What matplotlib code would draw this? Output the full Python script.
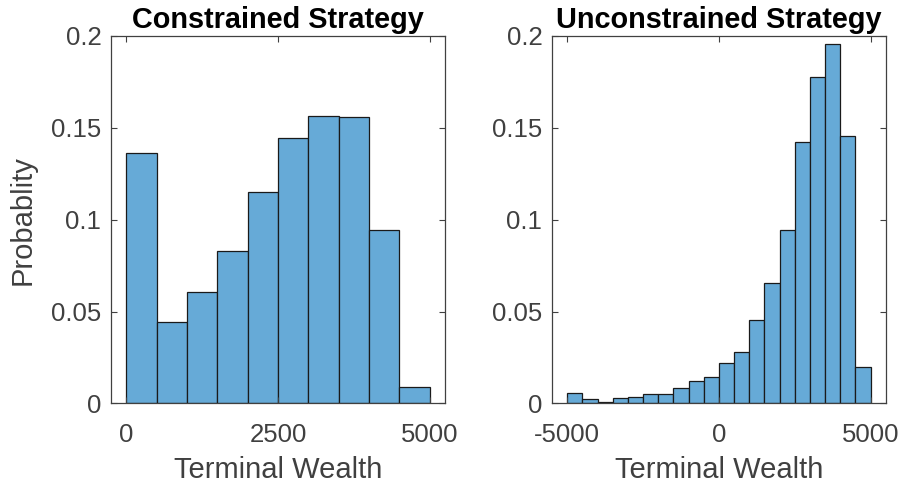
import numpy as np
import matplotlib
matplotlib.use("Agg")
import matplotlib.pyplot as plt

# Histogram bin edges and normalised counts (probability per bin)
constrained_edges = np.arange(0, 5001, 500)
constrained_prob = [0.1364, 0.0442, 0.0609, 0.0832, 0.1152,
                    0.1444, 0.1565, 0.1558, 0.0944, 0.0087]

unconstrained_edges = np.arange(-5000, 5001, 500)
unconstrained_prob = [0.0056, 0.0022, 0.0010, 0.0029, 0.0036,
                      0.0049, 0.0049, 0.0085, 0.0120, 0.0142,
                      0.0223, 0.0280, 0.0454, 0.0657, 0.0945,
                      0.1425, 0.1778, 0.1955, 0.1454, 0.0196]

titles = ["Constrained Strategy", "Unconstrained Strategy"]
xlims = [(-250, 5250), (-5500, 5500)]
xticks = [[0, 2500, 5000], [-5000, 0, 5000]]
yticks = [0, 0.05, 0.1, 0.15, 0.2]
ytick_labels = ["0", "0.05", "0.1", "0.15", "0.2"]

plt.rcParams["font.family"] = ["Liberation Sans", "DejaVu Sans"]

face = (0.4, 0.668, 0.845)
tick_grey = "#404040"

fig = plt.figure(figsize=(9.01, 4.88), dpi=100)
positions = [[0.1232, 0.1732, 0.3707, 0.7531],
             [0.6127, 0.1732, 0.3704, 0.7531]]

panels = [(constrained_edges, constrained_prob),
          (unconstrained_edges, unconstrained_prob)]

for i, (edges, prob) in enumerate(panels):
    ax = fig.add_axes(positions[i])
    ax.bar(edges[:-1], prob, width=np.diff(edges), align="edge",
           color=face, edgecolor="#1a1a1a", linewidth=0.9)
    ax.set_xlim(*xlims[i])
    ax.set_ylim(0, 0.2)
    ax.set_xticks(xticks[i])
    ax.set_xticklabels([str(t) for t in xticks[i]])
    ax.set_yticks(yticks)
    ax.set_yticklabels(ytick_labels)
    ax.tick_params(direction="in", length=4, width=0.8, top=True, right=True,
                   labelsize=18.5, colors=tick_grey, labelcolor=tick_grey)
    ax.tick_params(axis="y", pad=7)
    ax.tick_params(axis="x", pad=14)
    for sp in ax.spines.values():
        sp.set_color(tick_grey)
        sp.set_linewidth(0.9)
    ax.set_title(titles[i], fontsize=20.8, fontweight="bold", color="black", pad=6)
    ax.set_xlabel("Terminal Wealth", fontsize=21, color=tick_grey, labelpad=6.5)
    if i == 0:
        ax.set_ylabel("Probablity", fontsize=21, color=tick_grey, labelpad=10.5)

fig.savefig("out.png", dpi=100)
